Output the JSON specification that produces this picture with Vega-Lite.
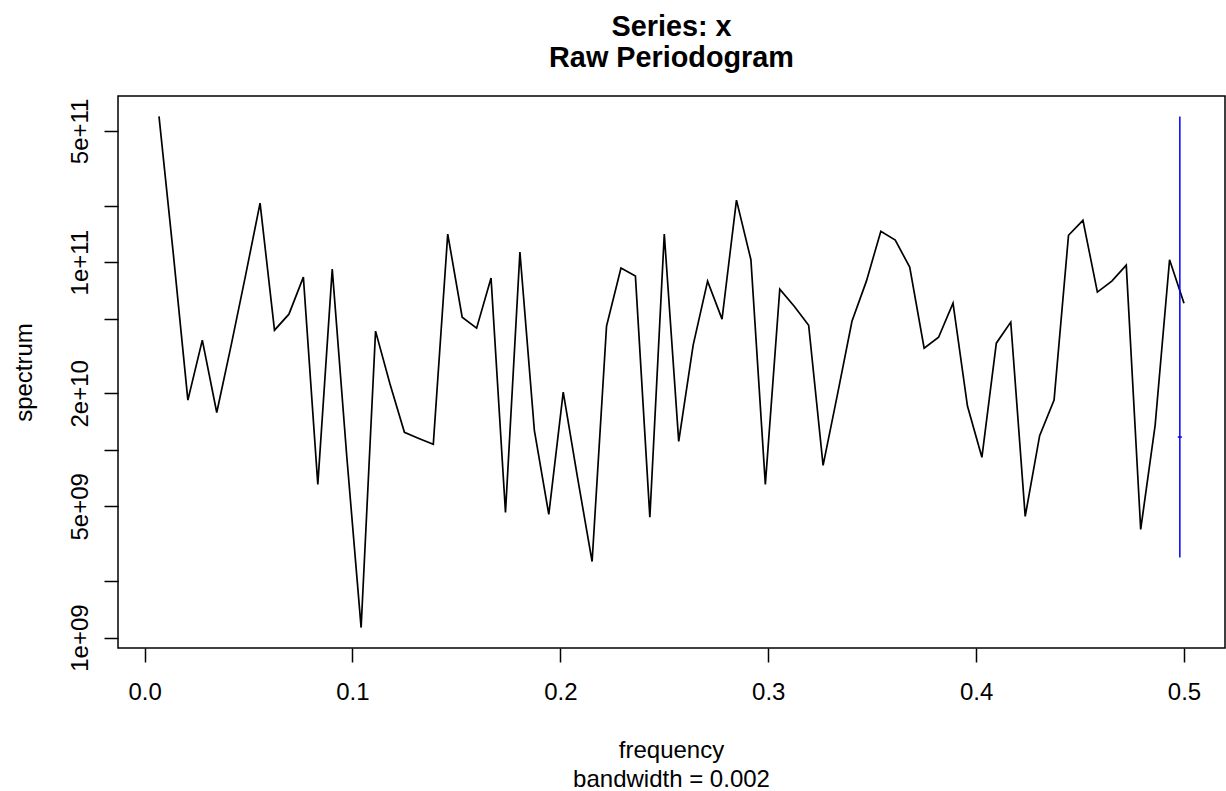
{
  "$schema": "https://vega.github.io/schema/vega-lite/v6.json",
  "autosize": "none",
  "padding": {"left": 118, "top": 96, "right": 1, "bottom": 143},
  "width": 1107,
  "height": 552,
  "background": "white",
  "title": {
    "text": ["Series: x", "Raw Periodogram"],
    "font": "Liberation Sans",
    "fontSize": 28.8,
    "fontWeight": "bold",
    "color": "black",
    "anchor": "middle",
    "frame": "group",
    "lineHeight": 31,
    "baseline": "bottom",
    "offset": -6
  },
  "config": {
    "view": {"stroke": "black", "strokeWidth": 1.5},
    "axis": {
      "grid": false,
      "domain": false,
      "labelFont": "Liberation Sans",
      "labelFontSize": 24,
      "labelColor": "black",
      "titleFont": "Liberation Sans",
      "titleFontSize": 24,
      "titleFontWeight": "normal",
      "titleColor": "black",
      "tickColor": "black",
      "tickWidth": 1.5,
      "tickSize": 14
    }
  },
  "datasets": {
    "spec": [
      {"frequency": 0.006944, "spectrum": 5.97e11},
      {"frequency": 0.013889, "spectrum": 1.09e11},
      {"frequency": 0.020833, "spectrum": 1.84e10},
      {"frequency": 0.027778, "spectrum": 3.84e10},
      {"frequency": 0.034722, "spectrum": 1.58e10},
      {"frequency": 0.041667, "spectrum": 3.61e10},
      {"frequency": 0.048611, "spectrum": 8.53e10},
      {"frequency": 0.055556, "spectrum": 2.06e11},
      {"frequency": 0.0625, "spectrum": 4.34e10},
      {"frequency": 0.069444, "spectrum": 5.28e10},
      {"frequency": 0.076389, "spectrum": 8.32e10},
      {"frequency": 0.083333, "spectrum": 6.55e9},
      {"frequency": 0.090278, "spectrum": 9.18e10},
      {"frequency": 0.097222, "spectrum": 9.35e9},
      {"frequency": 0.104167, "spectrum": 1.13e9},
      {"frequency": 0.111111, "spectrum": 4.29e10},
      {"frequency": 0.118056, "spectrum": 2.24e10},
      {"frequency": 0.125, "spectrum": 1.24e10},
      {"frequency": 0.131944, "spectrum": 1.15e10},
      {"frequency": 0.138889, "spectrum": 1.07e10},
      {"frequency": 0.145833, "spectrum": 1.41e11},
      {"frequency": 0.152778, "spectrum": 5.09e10},
      {"frequency": 0.159722, "spectrum": 4.45e10},
      {"frequency": 0.166667, "spectrum": 8.22e10},
      {"frequency": 0.173611, "spectrum": 4.64e9},
      {"frequency": 0.180556, "spectrum": 1.13e11},
      {"frequency": 0.1875, "spectrum": 1.27e10},
      {"frequency": 0.194444, "spectrum": 4.53e9},
      {"frequency": 0.201389, "spectrum": 2.03e10},
      {"frequency": 0.208333, "spectrum": 7.05e9},
      {"frequency": 0.215278, "spectrum": 2.54e9},
      {"frequency": 0.222222, "spectrum": 4.56e10},
      {"frequency": 0.229167, "spectrum": 9.29e10},
      {"frequency": 0.236111, "spectrum": 8.42e10},
      {"frequency": 0.243056, "spectrum": 4.37e9},
      {"frequency": 0.25, "spectrum": 1.41e11},
      {"frequency": 0.256944, "spectrum": 1.11e10},
      {"frequency": 0.263889, "spectrum": 3.61e10},
      {"frequency": 0.270833, "spectrum": 7.92e10},
      {"frequency": 0.277778, "spectrum": 4.97e10},
      {"frequency": 0.284722, "spectrum": 2.14e11},
      {"frequency": 0.291667, "spectrum": 1.03e11},
      {"frequency": 0.298611, "spectrum": 6.55e9},
      {"frequency": 0.305556, "spectrum": 7.18e10},
      {"frequency": 0.3125, "spectrum": 5.82e10},
      {"frequency": 0.319444, "spectrum": 4.61e10},
      {"frequency": 0.326389, "spectrum": 8.27e9},
      {"frequency": 0.333333, "spectrum": 1.98e10},
      {"frequency": 0.340278, "spectrum": 4.84e10},
      {"frequency": 0.347222, "spectrum": 7.92e10},
      {"frequency": 0.354167, "spectrum": 1.46e11},
      {"frequency": 0.361111, "spectrum": 1.31e11},
      {"frequency": 0.368056, "spectrum": 9.40e10},
      {"frequency": 0.375, "spectrum": 3.48e10},
      {"frequency": 0.381944, "spectrum": 3.98e10},
      {"frequency": 0.388889, "spectrum": 6.04e10},
      {"frequency": 0.395833, "spectrum": 1.71e10},
      {"frequency": 0.402778, "spectrum": 9.12e9},
      {"frequency": 0.409722, "spectrum": 3.70e10},
      {"frequency": 0.416667, "spectrum": 4.79e10},
      {"frequency": 0.423611, "spectrum": 4.42e9},
      {"frequency": 0.430556, "spectrum": 1.19e10},
      {"frequency": 0.4375, "spectrum": 1.84e10},
      {"frequency": 0.444444, "spectrum": 1.39e11},
      {"frequency": 0.451389, "spectrum": 1.67e11},
      {"frequency": 0.458333, "spectrum": 6.92e10},
      {"frequency": 0.465278, "spectrum": 7.92e10},
      {"frequency": 0.472222, "spectrum": 9.64e10},
      {"frequency": 0.479167, "spectrum": 3.77e9},
      {"frequency": 0.486111, "spectrum": 1.35e10},
      {"frequency": 0.493056, "spectrum": 1.03e11},
      {"frequency": 0.5, "spectrum": 6.04e10}
    ],
    "ci": [
      {"frequency": 0.498, "lower": 2.67e9, "upper": 5.97e11, "mid": 1.17e10, "bwlo": 0.497, "bwhi": 0.499}
    ]
  },
  "layer": [
    {
      "data": {"name": "spec"},
      "mark": {"type": "line", "color": "black", "strokeWidth": 1.7},
      "encoding": {
        "x": {
          "field": "frequency",
          "type": "quantitative",
          "scale": {"domain": [-0.01278, 0.51972], "nice": false, "zero": false},
          "axis": {
            "values": [0, 0.1, 0.2, 0.3, 0.4, 0.5],
            "format": ".1f",
            "labelBaseline": "top",
            "labelPadding": 18,
            "labelFlush": false,
            "labelOverlap": false,
            "title": ["frequency", "bandwidth = 0.002"],
            "titleLineHeight": 29,
            "titleBaseline": "alphabetic",
            "titleY": 109,
            "titleX": 553
          }
        },
        "y": {
          "field": "spectrum",
          "type": "quantitative",
          "scale": {"type": "log", "domain": [8.796e8, 7.672e11], "nice": false, "zero": false},
          "axis": {
            "values": [1e9, 2e9, 5e9, 1e10, 2e10, 5e10, 1e11, 2e11, 5e11],
            "labelExpr": "datum.value == 1e9 ? '1e+09' : datum.value == 5e9 ? '5e+09' : datum.value == 2e10 ? '2e+10' : datum.value == 1e11 ? '1e+11' : datum.value == 5e11 ? '5e+11' : ''",
            "labelAngle": 270,
            "labelAlign": "center",
            "labelBaseline": "alphabetic",
            "labelPadding": 17,
            "labelFlush": false,
            "labelOverlap": false,
            "labelBound": false,
            "title": "spectrum",
            "titleAngle": 270,
            "titleAlign": "center",
            "titleBaseline": "alphabetic",
            "titleX": -87,
            "titleY": 276
          }
        }
      }
    },
    {
      "data": {"name": "ci"},
      "mark": {"type": "rule", "color": "#0000FF", "strokeWidth": 1.5},
      "encoding": {
        "x": {"field": "frequency", "type": "quantitative"},
        "y": {"field": "lower", "type": "quantitative"},
        "y2": {"field": "upper"}
      }
    },
    {
      "data": {"name": "ci"},
      "mark": {"type": "rule", "color": "#0000FF", "strokeWidth": 1.5},
      "encoding": {
        "x": {"field": "bwlo", "type": "quantitative"},
        "x2": {"field": "bwhi"},
        "y": {"field": "mid", "type": "quantitative"}
      }
    }
  ]
}
